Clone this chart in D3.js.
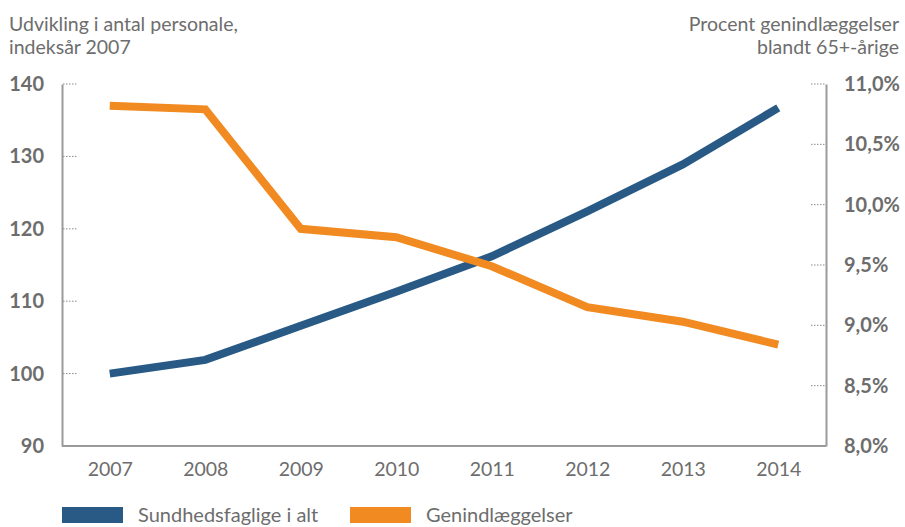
<!DOCTYPE html>
<html>
<head>
<meta charset="utf-8">
<script src="https://cdn.jsdelivr.net/npm/d3@7/dist/d3.min.js"></script>
<style>
  html, body { margin: 0; padding: 0; background: #fff; }
  svg { display: block; }
  text { font-family: Lato, "Open Sans", sans-serif; }
</style>
</head>
<body>
<script>
// Years on the x axis
const years = ["2007", "2008", "2009", "2010", "2011", "2012", "2013", "2014"];
// Health staff index (2007 = 100), left axis
const staffIndex = [100.0, 101.9, 106.6, 111.3, 116.2, 122.4, 128.9, 136.7];
// Readmissions among 65+ year olds (%), right axis
const readmissionPct = [10.82, 10.79, 9.80, 9.73, 9.49, 9.15, 9.03, 8.84];
// Tick values for both axes
const leftTicks = [90, 100, 110, 120, 130, 140];
const rightTicks = [8.0, 8.5, 9.0, 9.5, 10.0, 10.5, 11.0];
const seriesNames = ["Sundhedsfaglige i alt", "Genindlæggelser"];
const seriesColors = ["#285a85", "#f28a22"];

const W = 905, H = 527;
const plotLeft = 62, plotRight = 826, plotTop = 84, plotBottom = 446;
const fs = 19.5;

const svg = d3.select("body").append("svg").attr("width", W).attr("height", H);

const x = d3.scalePoint().domain(years).range([plotLeft, plotRight]).padding(0.5);
const yL = d3.scaleLinear().domain([90, 140]).range([plotBottom, plotTop]);
const yR = d3.scaleLinear().domain([8.0, 11.0]).range([plotBottom, plotTop]);

const grey = "#6d6d6d";
const axisGrey = "#9a9a9a";

// Axis titles
const tl = svg.append("text").attr("fill", grey).attr("font-size", fs);
tl.append("tspan").attr("x", 9).attr("y", 31).text("Udvikling i antal personale,");
tl.append("tspan").attr("x", 9).attr("y", 54).text("indeksår 2007");
const tr = svg.append("text").attr("fill", grey).attr("font-size", fs).attr("text-anchor", "end");
tr.append("tspan").attr("x", 899).attr("y", 31).text("Procent genindlæggelser");
tr.append("tspan").attr("x", 899).attr("y", 54).text("blandt 65+-årige");

// Left axis
const gL = svg.append("g").attr("transform", `translate(${plotLeft},0)`)
  .call(d3.axisLeft(yL).tickValues(leftTicks).tickSize(0).tickPadding(18).tickFormat(d3.format("d")));
gL.select(".domain").attr("stroke", axisGrey).attr("stroke-width", 2);
gL.selectAll("text").attr("fill", grey).attr("font-size", 20).attr("font-weight", "bold")
  .attr("font-family", "Lato, sans-serif");

// Right axis
const fmtPct = d => d3.format(".1f")(d).replace(".", ",") + "%";
const gR = svg.append("g").attr("transform", `translate(${plotRight},0)`)
  .call(d3.axisRight(yR).tickValues(rightTicks).tickSize(0).tickPadding(18).tickFormat(fmtPct));
gR.select(".domain").attr("stroke", axisGrey).attr("stroke-width", 2);
gR.selectAll("text").attr("fill", grey).attr("font-size", 20).attr("font-weight", "bold")
  .attr("font-family", "Lato, sans-serif");

// Dotted tick stubs inside the plot
svg.append("g").selectAll("line").data(leftTicks.filter(d => d > 90)).join("line")
  .attr("x1", plotLeft + 1).attr("x2", plotLeft + 15)
  .attr("y1", d => yL(d)).attr("y2", d => yL(d))
  .attr("stroke", "#8a8a8a").attr("stroke-width", 1).attr("stroke-dasharray", "1.5,1.5");
svg.append("g").selectAll("line").data(rightTicks.filter(d => d > 8.0)).join("line")
  .attr("x1", plotRight - 15).attr("x2", plotRight - 1)
  .attr("y1", d => yR(d)).attr("y2", d => yR(d))
  .attr("stroke", "#8a8a8a").attr("stroke-width", 1).attr("stroke-dasharray", "1.5,1.5");

// Bottom axis
const gB = svg.append("g").attr("transform", `translate(0,${plotBottom})`)
  .call(d3.axisBottom(x).tickSize(0).tickPadding(16));
gB.select(".domain").attr("stroke", axisGrey).attr("stroke-width", 2)
  .attr("d", `M${plotLeft},0H${plotRight}`);
gB.selectAll("text").attr("fill", grey).attr("font-size", fs).attr("font-family", "Lato, sans-serif");

// Lines
const lineL = d3.line().x((d, i) => x(years[i])).y(d => yL(d));
const lineR = d3.line().x((d, i) => x(years[i])).y(d => yR(d));
svg.append("path").datum(staffIndex).attr("d", lineL)
  .attr("fill", "none").attr("stroke", seriesColors[0]).attr("stroke-width", 8);
svg.append("path").datum(readmissionPct).attr("d", lineR)
  .attr("fill", "none").attr("stroke", seriesColors[1]).attr("stroke-width", 8);

// Legend
const legendX = [62, 350];
const lg = svg.append("g").selectAll("g").data(seriesNames).join("g")
  .attr("transform", (d, i) => `translate(${legendX[i]},507)`);
lg.append("rect").attr("width", 61).attr("height", 16).attr("fill", (d, i) => seriesColors[i]);
lg.append("text").attr("x", 76).attr("y", 15).attr("fill", grey).attr("font-size", 20).text(d => d);
</script>
</body>
</html>
